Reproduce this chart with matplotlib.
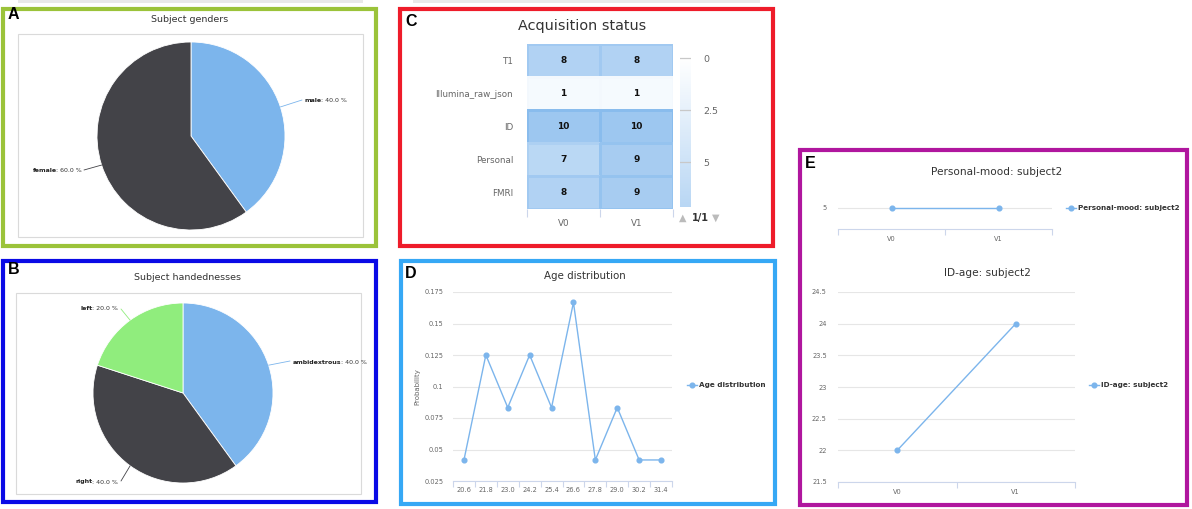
import numpy as np
import matplotlib
matplotlib.use("Agg")
import matplotlib.pyplot as plt
from matplotlib.patches import Rectangle
from matplotlib.colors import LinearSegmentedColormap, Normalize, to_rgb

# ---------------- data ----------------
gender_labels = ["male", "female"]
gender_values = [40.0, 60.0]

hand_labels = ["ambidextrous", "right", "left"]
hand_values = [40.0, 40.0, 20.0]

acq_rows = ["T1", "Illumina_raw_json", "ID", "Personal", "FMRI"]
acq_cols = ["V0", "V1"]
acq_v0 = [8, 1, 10, 7, 8]
acq_v1 = [8, 1, 10, 9, 9]
cbar_ticks = [0, 2.5, 5]

age_bins = ["20.6", "21.8", "23.0", "24.2", "25.4", "26.6", "27.8", "29.0", "30.2", "31.4"]
age_prob = [0.0417, 0.125, 0.0833, 0.125, 0.0833, 0.1667, 0.0417, 0.0833, 0.0417, 0.0417]

visits = ["V0", "V1"]
mood_values = [5, 5]
idage_values = [22, 24]

# ---------------- styling ----------------
W, H = 1192, 509
BLUE = "#7cb5ec"
DARK = "#434348"
GREEN = "#90ed7d"
TITLE_C = "#333333"
TICK_C = "#666666"
AXIS_C = "#ccd6eb"
GRID_C = "#e6e6e6"
FONT = "DejaVu Sans"
plt.rcParams["font.family"] = [FONT]

fig = plt.figure(figsize=(W / 100, H / 100), dpi=100)
over = fig.add_axes([0, 0, 1, 1], zorder=0)
over.set_xlim(0, W)
over.set_ylim(H, 0)
over.axis("off")


def px_axes(x0, y0, x1, y1, **kw):
    return fig.add_axes([x0 / W, 1 - y1 / H, (x1 - x0) / W, (y1 - y0) / H], **kw)


# faint bars at top
over.add_patch(Rectangle((18, 0), 345, 2.5, color="#e9e9e9", lw=0))
over.add_patch(Rectangle((413, 0), 347, 2.5, color="#e9e9e9", lw=0))

# panel borders
borders = [
    ((3, 9, 376, 246), "#9bc33a"),
    ((3, 261, 376, 502), "#0a0ae6"),
    ((400, 9, 773, 246), "#ee1c2a"),
    ((401, 261, 775, 504), "#36a8f5"),
    ((800, 150, 1187, 505), "#b0169e"),
]
for (x0, y0, x1, y1), c in borders:
    over.add_patch(Rectangle((x0, y0), x1 - x0, y1 - y0, fill=False, edgecolor=c, lw=3.0))

# panel letters
for letter, (x, y) in zip("ABCDE", [(8, 14.5), (8, 269.5), (405, 21), (405, 274), (805, 164)]):
    over.text(x, y, letter, fontsize=11.5, weight="bold", family="Liberation Sans",
              ha="left", va="center", color="black")

# titles
over.text(190, 19, "Subject genders", fontsize=6.8, color=TITLE_C, ha="center", va="center")
over.text(188, 277, "Subject handednesses", fontsize=6.8, color=TITLE_C, ha="center", va="center")
over.text(582, 26, "Acquisition status", fontsize=10.4, color=TITLE_C, ha="center", va="center")
over.text(585, 276, "Age distribution", fontsize=7.4, color=TITLE_C, ha="center", va="center")
over.text(997, 172, "Personal-mood: subject2", fontsize=7.6, color=TITLE_C, ha="center", va="center")
over.text(987, 273, "ID-age: subject2", fontsize=7.6, color=TITLE_C, ha="center", va="center")

# pie frames
over.add_patch(Rectangle((18, 34), 345, 203, fill=False, edgecolor="#dadada", lw=0.8))
over.add_patch(Rectangle((16, 293), 345, 201, fill=False, edgecolor="#dadada", lw=0.8))


def draw_pie(cx, cy, r, values, labels, colors, label_pos, conn_end, right_side):
    ax = px_axes(cx - r, cy - r, cx + r, cy + r)
    wedges, _ = ax.pie(values, colors=colors, startangle=90, counterclock=False, radius=1,
                       wedgeprops=dict(edgecolor="white", linewidth=0.6))
    ax.set_xlim(-1, 1)
    ax.set_ylim(-1, 1)
    ax.axis("off")
    for w, lab, val, (lx, ly), (ex, ey), rs, col in zip(wedges, labels, values, label_pos,
                                                        conn_end, right_side, colors):
        mid = np.deg2rad((w.theta1 + w.theta2) / 2)
        edge = (np.cos(mid), np.sin(mid))
        end = ((ex - cx) / r, (cy - ey) / r)
        ax.annotate("", xy=edge, xytext=end, arrowprops=dict(arrowstyle="-", color=col, lw=0.6,
                                                             shrinkA=0, shrinkB=0),
                    annotation_clip=False)
        tx, ty = (lx - cx) / r, (cy - ly) / r
        if rs:
            t1 = ax.text(tx, ty, lab, fontsize=4.5, weight="bold", ha="left", va="center",
                         color="#222222", clip_on=False)
            ax.annotate(f": {val:.1f} %", xy=(1, 0.5), xycoords=t1, xytext=(-0.6, 0),
                        textcoords="offset points", fontsize=4.5, ha="left",
                        va="center", color="#333333", annotation_clip=False)
        else:
            t2 = ax.text(tx, ty, f": {val:.1f} %", fontsize=4.5, ha="right", va="center",
                         color="#333333", clip_on=False)
            ax.annotate(lab, xy=(0, 0.5), xycoords=t2, xytext=(0.6, 0),
                        textcoords="offset points", fontsize=4.5, weight="bold", ha="right",
                        va="center", color="#222222", annotation_clip=False)
    return ax


draw_pie(191, 136, 94, gender_values, gender_labels, [BLUE, DARK],
         label_pos=[(305, 101), (82, 171)], conn_end=[(302, 100), (84, 170)],
         right_side=[True, False])
draw_pie(183, 393, 90, hand_values, hand_labels, [BLUE, DARK, GREEN],
         label_pos=[(293, 362), (118, 482), (118, 308)],
         conn_end=[(290, 361), (121, 481), (121, 309)],
         right_side=[True, False, False])

# ---------------- heatmap ----------------
hm_top = "#9dc7f0"
cmap = LinearSegmentedColormap.from_list("hc", ["#ffffff", hm_top])
norm = Normalize(0, 10)
data = np.array([acq_v0, acq_v1]).T
axh = px_axes(527, 44, 673, 209)
mesh = axh.pcolormesh(np.arange(len(acq_cols) + 1), np.arange(len(acq_rows) + 1), data,
                      cmap=cmap, norm=norm, linewidth=0.8)
white = np.array([1.0, 1.0, 1.0])
top = np.array(to_rgb(hm_top))
edge_cols = []
for v in data.ravel():
    f = 1.2 * v / 10
    edge_cols.append(tuple(np.clip(white - f * (white - top), 0, 1)))
mesh.set_edgecolor(edge_cols)
axh.set_xlim(0, 2)
axh.set_ylim(len(acq_rows), 0)
for i in range(len(acq_rows)):
    for j in range(len(acq_cols)):
        axh.text(j + 0.5, i + 0.5, str(data[i, j]), ha="center", va="center", fontsize=6.5,
                 weight="bold", color="#111111")
for s in axh.spines.values():
    s.set_visible(False)
axh.set_yticks(np.arange(len(acq_rows)) + 0.5)
axh.set_yticklabels(acq_rows, fontsize=6.3, color=TICK_C)
axh.set_xticks(np.arange(len(acq_cols)) + 0.5)
axh.set_xticklabels(acq_cols, fontsize=6.3, color=TICK_C)
axh.tick_params(axis="both", which="major", length=0)
axh.tick_params(axis="y", pad=10)
axh.tick_params(axis="x", pad=7)
axh.set_xticks(np.arange(len(acq_cols) + 1), minor=True)
axh.tick_params(axis="x", which="minor", length=6, color=AXIS_C, width=0.8)

# colorbar
cb_lo, cb_hi = -0.29, 7.16
cax = px_axes(680, 52, 691, 207)
grad = np.linspace(cb_lo, cb_hi, 300).reshape(-1, 1)
cax.imshow(grad, cmap=cmap, norm=norm, aspect="auto", extent=(0, 1, cb_hi, cb_lo))
cax.set_xlim(0, 1)
cax.set_ylim(cb_hi, cb_lo)
for v in cbar_ticks:
    cax.axhline(v, color="#c8c8c8", lw=0.9)
for s in cax.spines.values():
    s.set_visible(False)
cax.set_xticks([])
cax.yaxis.tick_right()
cax.set_yticks(cbar_ticks)
cax.set_yticklabels(["0", "2.5", "5"], fontsize=6.8, color=TICK_C)
cax.tick_params(axis="y", length=0, pad=9)
over.text(683, 218, "\u25B2", fontsize=7, color="#bbbbbb", ha="center", va="center")
over.text(700, 218, "1/1", fontsize=7, color="#333333", weight="bold", ha="center", va="center")
over.text(716, 218, "\u25BC", fontsize=7, color="#bbbbbb", ha="center", va="center")


# ---------------- line charts ----------------
def style_line_axes(ax, n, ylim, yticks, yticklabels, ypad, xpad):
    ax.set_xlim(-0.5, n - 0.5)
    ax.set_ylim(*ylim)
    ax.set_yticks(yticks)
    ax.set_yticklabels(yticklabels, fontsize=4.8, color=TICK_C)
    ax.grid(axis="y", color=GRID_C, lw=0.8)
    ax.set_axisbelow(True)
    for k in ["top", "right", "left"]:
        ax.spines[k].set_visible(False)
    ax.spines["bottom"].set_color(AXIS_C)
    ax.spines["bottom"].set_linewidth(0.8)
    ax.tick_params(axis="both", which="major", length=0)
    ax.tick_params(axis="y", pad=ypad)
    ax.tick_params(axis="x", pad=xpad, labelsize=4.8, labelcolor=TICK_C)
    ax.set_xticks(np.arange(n + 1) - 0.5, minor=True)
    ax.tick_params(axis="x", which="minor", length=4, color=AXIS_C, width=0.8)


def add_legend(ax, x, y):
    ax.legend(loc="center left", bbox_to_anchor=(x / W, 1 - y / H), bbox_transform=fig.transFigure,
              frameon=False, handlelength=1.4, handletextpad=0.3, borderpad=0, borderaxespad=0,
              prop={"weight": "bold", "size": 5.2, "family": FONT}, labelcolor="#333333")


line_kw = dict(color=BLUE, lw=1.0, marker="o", ms=3.4)

axd = px_axes(453, 292, 672, 481)
axd.plot(np.arange(len(age_bins)), age_prob, label="Age distribution", **line_kw)
dticks = [0.025, 0.05, 0.075, 0.1, 0.125, 0.15, 0.175]
style_line_axes(axd, len(age_bins), (0.025, 0.175), dticks,
                ["0.025", "0.05", "0.075", "0.1", "0.125", "0.15", "0.175"], ypad=7, xpad=4)
axd.set_xticks(np.arange(len(age_bins)))
axd.set_xticklabels(age_bins)
axd.set_ylabel("Probability", fontsize=5, color=TICK_C)
axd.yaxis.set_label_coords((420 - 453) / 219, (481 - 387) / 189)
add_legend(axd, 687, 385)

axt = px_axes(838, 190, 1052, 229)
axt.plot(np.arange(len(visits)), mood_values, label="Personal-mood: subject2", **line_kw)
style_line_axes(axt, len(visits), (4.0, 5.857), [5], ["5"], ypad=8, xpad=5)
axt.set_xticks(np.arange(len(visits)))
axt.set_xticklabels(visits)
add_legend(axt, 1066, 208)

axb = px_axes(838, 292, 1075, 482)
axb.plot(np.arange(len(visits)), idage_values, label="ID-age: subject2", **line_kw)
bticks = [21.5, 22, 22.5, 23, 23.5, 24, 24.5]
style_line_axes(axb, len(visits), (21.5, 24.5), bticks,
                ["21.5", "22", "22.5", "23", "23.5", "24", "24.5"], ypad=8, xpad=5)
axb.set_xticks(np.arange(len(visits)))
axb.set_xticklabels(visits)
add_legend(axb, 1089, 385)

fig.savefig("out.png", dpi=100)
